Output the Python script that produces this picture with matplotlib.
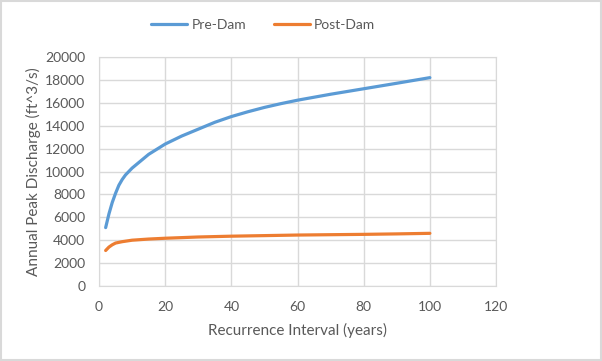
import matplotlib
matplotlib.use("Agg")
import matplotlib.pyplot as plt

# Recurrence interval (years) and peak discharge (ft^3/s)
pre_x = [2, 3, 4, 5, 6, 7, 8, 10, 15, 20, 25, 30, 35, 40, 45, 50, 55, 60, 70, 80, 90, 100]
pre_y = [5100, 6300, 7300, 8100, 8800, 9300, 9700, 10300, 11500, 12400,
         13100, 13700, 14300, 14800, 15220, 15600, 15930, 16230, 16750, 17230, 17710, 18200]

post_x = [2, 3, 4, 5, 7, 10, 15, 20, 30, 40, 50, 60, 70, 80, 90, 100]
post_y = [3100, 3400, 3600, 3750, 3870, 4000, 4100, 4170, 4280, 4350,
          4400, 4450, 4480, 4510, 4550, 4600]

plt.rcParams['font.family'] = ['Lato', 'DejaVu Sans']
txt = '#595959'
grid = '#D9D9D9'

fig = plt.figure(figsize=(6.02, 3.61), dpi=100)
ax = fig.add_axes([0.1645, 0.2078, 0.6595, 0.6342])

ax.plot(pre_x, pre_y, color='#5B9BD5', lw=2.3, label='Pre-Dam', solid_capstyle='round')
ax.plot(post_x, post_y, color='#ED7D31', lw=2.3, label='Post-Dam', solid_capstyle='round')

ax.set_xlim(0, 120)
ax.set_ylim(0, 20000)
ax.set_xticks(range(0, 121, 20))
ax.set_yticks(range(0, 20001, 2000))
ax.grid(True, color=grid, lw=1)
ax.set_axisbelow(True)
for s in ax.spines.values():
    s.set_color(grid)
ax.tick_params(length=0, labelsize=10, labelcolor=txt)
ax.tick_params(axis='x', pad=11)
ax.tick_params(axis='y', pad=10)

ax.set_xlabel('Recurrence Interval (years)', fontsize=11, color=txt, labelpad=7)
ax.set_ylabel('Annual Peak Discharge (ft^3/s)', fontsize=11, color=txt, labelpad=3)

fig.legend(loc='center', bbox_to_anchor=(0.437, 0.932), ncol=2, frameon=False,
           fontsize=10, labelcolor=txt, handlelength=2.6, handletextpad=0.3,
           columnspacing=2.0)

# light border around the chart
fig.patches.append(plt.Rectangle((0.002, 0.003), 0.996, 0.994, transform=fig.transFigure,
                                 fill=False, edgecolor='#D9D9D9', lw=1.5))

fig.savefig('out.png', dpi=100)
